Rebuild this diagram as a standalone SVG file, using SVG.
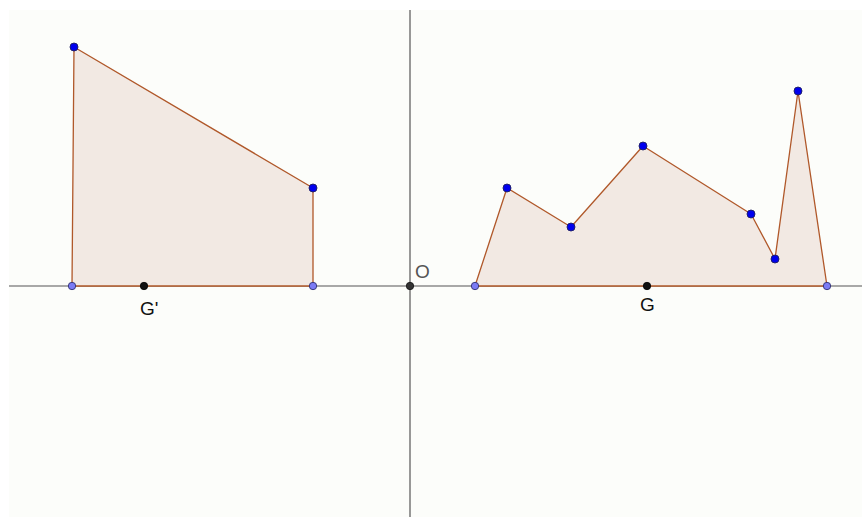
<svg xmlns="http://www.w3.org/2000/svg" width="862" height="517" viewBox="0 0 862 517">
<style>
.poly{fill:#f2e9e3;stroke:#b0582a;stroke-width:1.3;stroke-linejoin:round}
.axis{stroke:#555;stroke-width:1.2}
.pt{fill:#0000ee;stroke:#202060;stroke-width:0.9}
.lpt{fill:#7b7bf5;stroke:#303070;stroke-width:0.9}
.bpt{fill:#111;stroke:#000;stroke-width:0.8}
.lbl{font-family:"Liberation Sans",Arial,sans-serif;font-size:19px;fill:#111}
</style>
<rect x="0" y="0" width="862" height="517" fill="#ffffff"/>
<rect x="9" y="10" width="853" height="507" fill="#fcfdfa"/>
<g id="axes">
<line class="axis" x1="9" y1="286" x2="862" y2="286"/>
<line class="axis" x1="410" y1="10" x2="410" y2="517"/>
</g>
<g id="polygon-left">
<polygon class="poly" points="72,286 74,47 313,188 313,286"/>
</g>
<g id="polygon-right">
<polygon class="poly" points="475,286 507,188 571,227 643,146 751,214 775,259 798,91 827,286"/>
</g>
<g id="points">
<circle class="pt" cx="74" cy="47" r="4"/>
<circle class="pt" cx="313" cy="188" r="4"/>
<circle class="lpt" cx="72" cy="286" r="3.7"/>
<circle class="lpt" cx="313" cy="286" r="3.7"/>
<circle class="pt" cx="507" cy="188" r="4"/>
<circle class="pt" cx="571" cy="227" r="4"/>
<circle class="pt" cx="643" cy="146" r="4"/>
<circle class="pt" cx="751" cy="214" r="4"/>
<circle class="pt" cx="775" cy="259" r="4"/>
<circle class="pt" cx="798" cy="91" r="4"/>
<circle class="lpt" cx="475" cy="286" r="3.7"/>
<circle class="lpt" cx="827" cy="286" r="3.7"/>
</g>
<g id="G-prime">
<circle class="bpt" cx="144" cy="286" r="3.7"/>
<text class="lbl" x="140" y="315">G'</text>
</g>
<g id="G">
<circle class="bpt" cx="647" cy="286" r="3.7"/>
<text class="lbl" x="640" y="311">G</text>
</g>
<g id="O">
<circle cx="410" cy="286" r="3.7" fill="#333" stroke="#111" stroke-width="0.8"/>
<text class="lbl" x="415" y="278" style="fill:#555">O</text>
</g>
</svg>
